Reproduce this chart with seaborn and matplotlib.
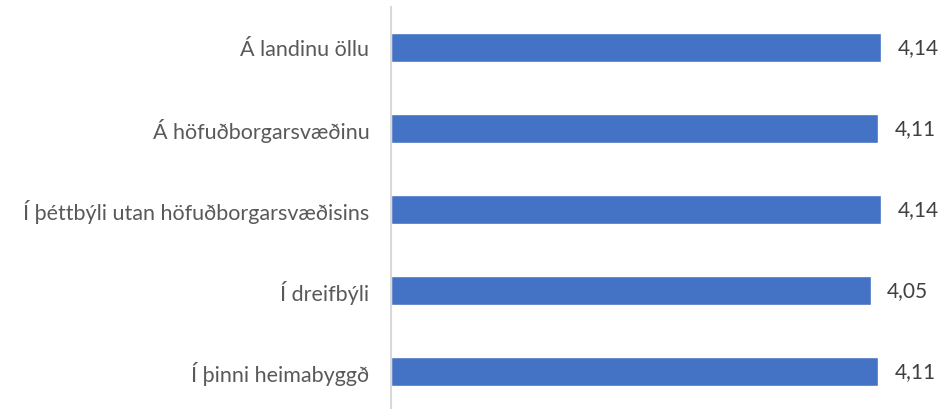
import matplotlib
matplotlib.use("Agg")
import matplotlib.pyplot as plt
import seaborn as sns
import pandas as pd

categories = [
    "Á landinu öllu",
    "Á höfuðborgarsvæðinu",
    "Í þéttbýli utan höfuðborgarsvæðisins",
    "Í dreifbýli",
    "Í þinni heimabyggð",
]
values = [4.14, 4.11, 4.14, 4.05, 4.11]

df = pd.DataFrame({"cat": categories, "val": values})

sns.set_theme(style="white")
plt.rcParams["font.family"] = ["Lato", "DejaVu Sans"]

fig = plt.figure(figsize=(9.43, 4.10), dpi=100)
W, H = 943, 410
ax = fig.add_axes([391 / W, 0, (W - 391) / W, (410 - 8) / H])

sns.barplot(data=df, y="cat", x="val", orient="h", color="#4472C4",
            width=0.36, saturation=1, ax=ax)

ax.set_xlim(0, 4.662)
ax.set_ylim(4.463, -0.5)
ax.set_xlabel("")
ax.set_ylabel("")
ax.set_xticks([])
for s in ["top", "right", "bottom"]:
    ax.spines[s].set_visible(False)
ax.spines["left"].set_color("#D9D9D9")
ax.spines["left"].set_linewidth(1.5)
ax.tick_params(axis="y", length=0, pad=15.5, labelsize=15.5, labelcolor="#595959")

for i, v in enumerate(values):
    ax.annotate(f"{v:.2f}".replace(".", ","), xy=(v, i), xytext=(12, 0),
                textcoords="offset points", va="center", ha="left",
                fontsize=15, color="#404040")

fig.savefig("out.png", dpi=100)
